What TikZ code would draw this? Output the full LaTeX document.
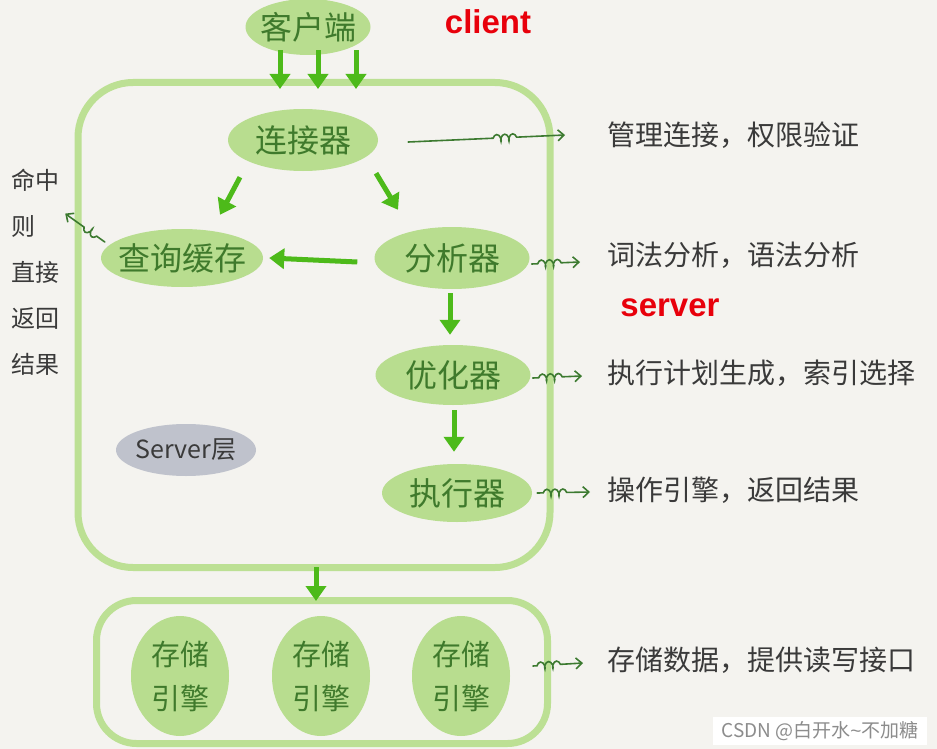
\documentclass[tikz,border=0pt]{standalone}
\usepackage{fontspec}
\newfontfamily\cjk{Noto Sans CJK SC}
\newfontfamily\lsans{Liberation Sans}
\usetikzlibrary{shapes.geometric,arrows.meta,calc,decorations.pathmorphing}
\definecolor{bgc}{HTML}{F4F3EF}
\definecolor{nodefill}{HTML}{B8DD8F}
\definecolor{boxline}{HTML}{BCE094}
\definecolor{nodetext}{HTML}{3F7A2C}
\definecolor{bright}{HTML}{4DBA1A}
\definecolor{squigc}{HTML}{3C7A30}
\definecolor{desctext}{HTML}{3A3A3A}
\definecolor{grayfill}{HTML}{BFC2CC}
\definecolor{redtext}{HTML}{E8000B}
\begin{document}
\begin{tikzpicture}[x=1pt,y=-1pt,
  ell/.style={ellipse, fill=nodefill, draw=none, inner xsep=-8pt, inner ysep=-6pt,
    text=nodetext, font=\cjk\fontsize{32}{36}\selectfont},
  stor/.style={ell, minimum width=98pt, minimum height=120pt, align=center,
    font=\cjk\fontsize{29}{44}\selectfont},
  grayell/.style={ellipse, fill=grayfill, draw=none, inner xsep=-8pt, inner ysep=-6pt,
    text=desctext, minimum width=140pt, minimum height=52pt, font=\cjk\fontsize{25}{30}\selectfont},
  contbox/.style={draw=boxline, line width=7pt, rectangle, fill=none},
  desc/.style={anchor=west, inner sep=0pt, text=desctext, font=\cjk\fontsize{28}{32}\selectfont},
  redlab/.style={text=redtext, font=\lsans\bfseries\fontsize{33}{36}\selectfont, inner sep=0pt},
  bigarr/.style={draw=bright, line width=5pt, -{Triangle[width=20pt,length=15pt]}},
  squig/.style={draw=squigc, line width=1.6pt, line cap=round, -{Straight Barb[length=6pt,width=11pt]},
    decorate},
]
\fill[bgc] (0,0) rectangle (937,749);
\useasboundingbox (0,0) rectangle (937,749);

% containers
\node[contbox, minimum width=472pt, minimum height=485pt, rounded corners=55pt] (serverbox) at (314,325) {};
\node[contbox, minimum width=451pt, minimum height=143pt, rounded corners=40pt] (storebox) at (322,672) {};

% main nodes
\node[ell, minimum width=125pt, minimum height=56pt] (client) at (308,27) {客户端};
\node[ell, minimum width=150pt, minimum height=62pt] (conn) at (303,140) {连接器};
\node[ell, minimum width=162pt, minimum height=58pt] (cache) at (182,258) {查询缓存};
\node[ell, minimum width=155pt, minimum height=62pt] (parse) at (452,258) {分析器};
\node[ell, minimum width=155pt, minimum height=60pt] (opt) at (453,375) {优化器};
\node[ell, minimum width=150pt, minimum height=58pt] (exec) at (457,493) {执行器};
\node[grayell] (slayer) at (186,450) {Server层};

\node[stor] (se1) at (180,676) {存储\\引擎};
\node[stor] (se2) at (321,676) {存储\\引擎};
\node[stor] (se3) at (461,676) {存储\\引擎};

% descriptions
\node[desc] (d1) at (607,135) {管理连接，权限验证};
\node[desc] (d2) at (607,255) {词法分析，语法分析};
\node[desc] (d3) at (607,373) {执行计划生成，索引选择};
\node[desc] (d4) at (607,490) {操作引擎，返回结果};
\node[desc] (d5) at (607,660) {存储数据，提供读写接口};

\node[anchor=center, align=left, inner sep=0pt, text=desctext, font=\cjk\fontsize{24}{46}\selectfont] (hint) at (35,272) {命中\\则\\直接\\返回\\结果};

% red labels
\node[redlab] (clientlab) at (488,22) {client};
\node[redlab] (serverlab) at (670,308) {server};

% watermark
\node[fill=white, inner xsep=8pt, inner ysep=4pt, text=black!45, font=\cjk\fontsize{19}{22}\selectfont] (wm) at (820,731) {CSDN @白开水{\lsans\char`\~}不加糖};

% thick arrows
\draw[bigarr] ($(client.south)+(-28,-5)$) -- ($(serverbox.north)+(-34,10)$);
\draw[bigarr] ($(client.south)+(10,-5)$) -- ($(serverbox.north)+(4,10)$);
\draw[bigarr] ($(client.south)+(48,-5)$) -- ($(serverbox.north)+(42,10)$);
\draw[bigarr] ($(conn.south)+(-63,6)$) -- ($(cache.north)+(38,-14)$);
\draw[bigarr] ($(conn.south)+(73,2)$) -- ($(parse.north)+(-54,-17)$);
\draw[bigarr] ($(parse.west)+(-17,4)$) -- ($(cache.east)+(6,0)$);
\draw[bigarr] ($(parse.south)+(-2,4)$) -- ($(opt.north)+(-3,-10)$);
\draw[bigarr] ($(opt.south)+(1,5)$) -- ($(exec.north)+(-3,-12)$);
\draw[bigarr] ($(serverbox.south)+(2,-4)$) -- ($(storebox.north)+(-6,4)$);

% squiggle arrows
\draw[squig, decoration={coil, amplitude=3.5pt, segment length=8pt, pre length=85pt, post length=42pt}]
  ($(conn.east)+(30,2)$) -- ($(d1.west)+(-42,0)$);
\draw[squig, decoration={coil, amplitude=3.5pt, segment length=8pt, pre length=6pt, post length=16pt}]
  ($(parse.east)+(2,6)$) -- ($(d2.west)+(-27,7)$);
\draw[squig, decoration={coil, amplitude=3.5pt, segment length=8pt, pre length=6pt, post length=16pt}]
  ($(opt.east)+(2,3)$) -- ($(d3.west)+(-25,3)$);
\draw[squig, decoration={coil, amplitude=3.5pt, segment length=8pt, pre length=6pt, post length=16pt}]
  ($(exec.east)+(5,0)$) -- ($(d4.west)+(-17,2)$);
\draw[squig, decoration={coil, amplitude=3.5pt, segment length=8pt, pre length=4pt, post length=16pt}]
  ($(storebox.east)+(-18,-6)$) -- ($(d5.west)+(-24,3)$);
\draw[squig, decoration={coil, amplitude=3.5pt, segment length=8pt, pre length=10pt, post length=18pt}]
  ($(cache.west)+(4,-16)$) -- ($(hint.north east)+(6,45)$);
\end{tikzpicture}
\end{document}
